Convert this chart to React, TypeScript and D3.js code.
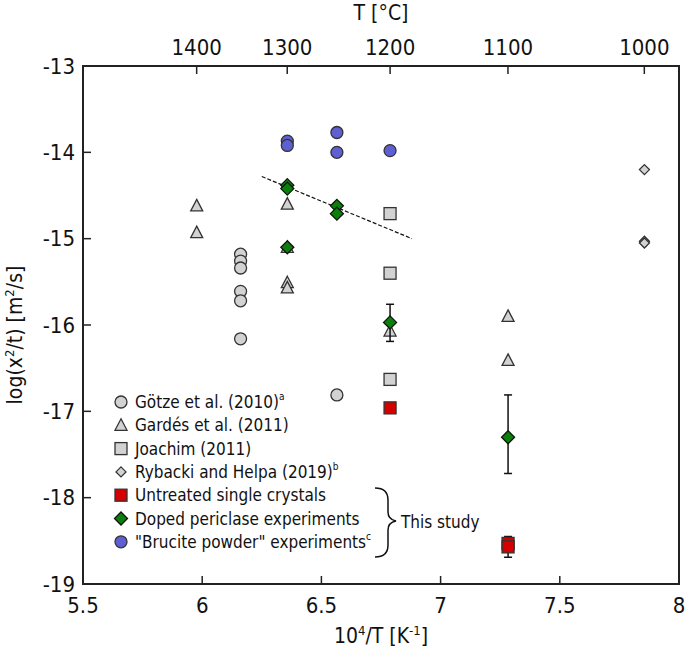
import React from "react";
import * as d3 from "d3";

const xTicks = [5.5, 6, 6.5, 7, 7.5, 8];
const yTicks = [-13, -14, -15, -16, -17, -18, -19];
const topTicksC = [1400, 1300, 1200, 1100, 1000];

const gotzeX = [6.161, 6.161, 6.161, 6.161, 6.161, 6.161, 6.565];
const gotzeY = [-15.18, -15.26, -15.34, -15.61, -15.72, -16.16, -16.81];
const gardesX = [5.977, 5.977, 6.357, 6.357, 6.357, 6.357, 6.788, 7.283, 7.283];
const gardesY = [-14.62, -14.93, -14.6, -15.1, -15.51, -15.57, -16.07, -15.9, -16.41];
const joachimX = [6.788, 6.788, 6.788];
const joachimY = [-14.71, -15.4, -16.63];
const rybackiX = [7.855, 7.855, 7.855];
const rybackiY = [-14.2, -15.03, -15.05];
const untreatedX = [6.788, 7.283, 7.283];
const untreatedY = [-16.96, -18.53, -18.57];
const untreatedErrLo = [null, -18.69, null];
const untreatedErrHi = [null, -18.45, null];
const dopedX = [6.357, 6.357, 6.357, 6.565, 6.565, 6.788, 7.283];
const dopedY = [-14.38, -14.42, -15.1, -14.62, -14.71, -15.97, -17.3];
const dopedErrLo = [null, null, null, null, null, -16.19, -17.72];
const dopedErrHi = [null, null, null, null, null, -15.76, -16.81];
const bruciteX = [6.357, 6.357, 6.565, 6.565, 6.788];
const bruciteY = [-13.87, -13.92, -13.77, -14.0, -13.98];
const trendX = [6.25, 6.88];
const trendY = [-14.28, -15.0];

const FONT = "'DejaVu Sans Condensed', 'DejaVu Sans', sans-serif";
const GRAY = "#d2d2d2";
const EDGE = "#333";
const RED = "#d40000";
const GREEN = "#0a800a";
const BLUE = "#5f5fd4";

const L = 83, R = 679, T = 66, B = 584;
const x = d3.scaleLinear().domain([5.5, 8]).range([L, R]);
const y = d3.scaleLinear().domain([-13, -19]).range([T, B]);

type Shape = "circle" | "triangle" | "square" | "diamond" | "smalldiamond";

function Marker({ cx, cy, shape, fill }: { cx: number; cy: number; shape: Shape; fill: string }) {
  const sw = 1.3;
  if (shape === "circle") return <circle cx={cx} cy={cy} r={6} fill={fill} stroke={EDGE} strokeWidth={sw} />;
  if (shape === "square") return <rect x={cx - 6} y={cy - 6} width={12} height={12} fill={fill} stroke={EDGE} strokeWidth={sw} />;
  if (shape === "triangle")
    return <path d={`M${cx},${cy - 6.5}L${cx + 6},${cy + 5}L${cx - 6},${cy + 5}Z`} fill={fill} stroke={EDGE} strokeWidth={sw} />;
  const h = shape === "diamond" ? 6.5 : 5;
  return <path d={`M${cx},${cy - h}L${cx + h},${cy}L${cx},${cy + h}L${cx - h},${cy}Z`} fill={fill} stroke={shape === "diamond" ? "#111" : EDGE} strokeWidth={sw} />;
}

function Series({ xs, ys, shape, fill }: { xs: number[]; ys: number[]; shape: Shape; fill: string }) {
  return (
    <g>
      {xs.map((v, i) => (
        <Marker key={i} cx={x(v)} cy={y(ys[i])} shape={shape} fill={fill} />
      ))}
    </g>
  );
}

function ErrBars({ xs, lo, hi }: { xs: number[]; lo: (number | null)[]; hi: (number | null)[] }) {
  return (
    <g stroke="#111" strokeWidth={1.5}>
      {xs.map((v, i) => {
        const a = lo[i], b = hi[i];
        if (a == null || b == null) return null;
        const px = x(v);
        return (
          <g key={i}>
            <line x1={px} x2={px} y1={y(a)} y2={y(b)} />
            <line x1={px - 4} x2={px + 4} y1={y(a)} y2={y(a)} />
            <line x1={px - 4} x2={px + 4} y1={y(b)} y2={y(b)} />
          </g>
        );
      })}
    </g>
  );
}

const legendItems: { label: string; sup?: string; shape: Shape; fill: string }[] = [
  { label: "Götze et al. (2010)", sup: "a", shape: "circle", fill: GRAY },
  { label: "Gardés et al. (2011)", shape: "triangle", fill: GRAY },
  { label: "Joachim (2011)", shape: "square", fill: GRAY },
  { label: "Rybacki and Helpa (2019)", sup: "b", shape: "smalldiamond", fill: GRAY },
  { label: "Untreated single crystals", shape: "square", fill: RED },
  { label: "Doped periclase experiments", shape: "diamond", fill: GREEN },
  { label: "\"Brucite powder\" experiments", sup: "c", shape: "circle", fill: BLUE },
];

export default function App() {
  const tempToX = (c: number) => 1e4 / (c + 273.15);
  return (
    <svg width={685} height={651} style={{ position: "absolute", left: 0, top: 0, background: "#fff" }} fontFamily={FONT}>
      <rect width={685} height={651} fill="#fff" />
      {/* Trend line */}
      <line x1={x(trendX[0])} y1={y(trendY[0])} x2={x(trendX[1])} y2={y(trendY[1])} stroke="#111" strokeWidth={1.2} strokeDasharray="4,2" />

      <Series xs={gotzeX} ys={gotzeY} shape="circle" fill={GRAY} />
      <Series xs={gardesX} ys={gardesY} shape="triangle" fill={GRAY} />
      <Series xs={joachimX} ys={joachimY} shape="square" fill={GRAY} />
      <Series xs={rybackiX} ys={rybackiY} shape="smalldiamond" fill={GRAY} />
      <ErrBars xs={untreatedX} lo={untreatedErrLo} hi={untreatedErrHi} />
      <Series xs={untreatedX} ys={untreatedY} shape="square" fill={RED} />
      <ErrBars xs={dopedX} lo={dopedErrLo} hi={dopedErrHi} />
      <Series xs={dopedX} ys={dopedY} shape="diamond" fill={GREEN} />
      <Series xs={bruciteX} ys={bruciteY} shape="circle" fill={BLUE} />

      {/* Frame */}
      <rect x={L} y={T} width={R - L} height={B - T} fill="none" stroke="#222" strokeWidth={2} />

      {/* Bottom ticks */}
      {xTicks.map((t) => (
        <g key={"xb" + t}>
          {t > 5.5 && t < 8 && <line x1={x(t)} x2={x(t)} y1={B} y2={B - 8} stroke="#222" strokeWidth={1.5} />}
          <text x={x(t)} y={605} fontSize={22} textAnchor="middle" dominantBaseline="central" fill="#111">
            {String(t)}
          </text>
        </g>
      ))}
      {/* Left ticks */}
      {yTicks.map((t) => (
        <g key={"yl" + t}>
          {t < -13 && t > -19 && <line x1={L} x2={L + 8} y1={y(t)} y2={y(t)} stroke="#222" strokeWidth={1.5} />}
          <text x={75} y={y(t)} fontSize={22} textAnchor="end" dominantBaseline="central" fill="#111">
            {String(t)}
          </text>
        </g>
      ))}
      {/* Top ticks */}
      {topTicksC.map((c) => (
        <g key={"xt" + c}>
          <line x1={x(tempToX(c))} x2={x(tempToX(c))} y1={T} y2={T + 8} stroke="#222" strokeWidth={1.5} />
          <text x={x(tempToX(c))} y={47} fontSize={22} textAnchor="middle" dominantBaseline="central" fill="#111">
            {String(c)}
          </text>
        </g>
      ))}

      {/* Axis titles */}
      <text x={(L + R) / 2} y={13} fontSize={21} textAnchor="middle" dominantBaseline="central" fill="#111">
        T [°C]
      </text>
      <text x={(L + R) / 2} y={643} fontSize={21} textAnchor="middle" fill="#111">
        10<tspan dy={-8} fontSize={13}>4</tspan>
        <tspan dy={8}>/T [K</tspan>
        <tspan dy={-8} fontSize={13}>-1</tspan>
        <tspan dy={8}>]</tspan>
      </text>
      <text transform={`translate(22,335) rotate(-90)`} fontSize={21} textAnchor="middle" fill="#111">
        log(x<tspan dy={-8} fontSize={13}>2</tspan>
        <tspan dy={8}>/t) [m</tspan>
        <tspan dy={-8} fontSize={13}>2</tspan>
        <tspan dy={8}>/s]</tspan>
      </text>

      {/* Legend */}
      {legendItems.map((it, i) => {
        const ly = 402 + i * 23.3;
        return (
          <g key={it.label}>
            <Marker cx={121} cy={ly} shape={it.shape} fill={it.fill} />
            <text x={135} y={ly} fontSize={17} dominantBaseline="central" fill="#111">
              {it.label}
              {it.sup && (
                <tspan dy={-6} fontSize={10}>
                  {it.sup}
                </tspan>
              )}
            </text>
          </g>
        );
      })}
      {/* Brace */}
      <path
        d="M375,488 C384,488 388,492 388,500 L388,512 C388,518 391,520 396,521 C391,522 388,524 388,530 L388,545 C388,553 384,557 375,557"
        fill="none"
        stroke="#111"
        strokeWidth={1.5}
      />
      <text x={401} y={522} fontSize={17} dominantBaseline="central" fill="#111">
        This study
      </text>
    </svg>
  );
}
